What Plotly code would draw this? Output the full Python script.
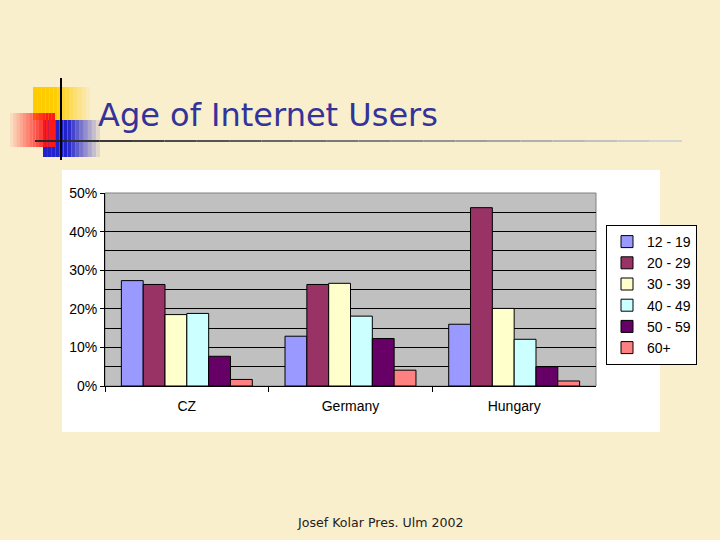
import plotly.graph_objects as go

# Data ---
countries = ["CZ", "Germany", "Hungary"]
age_groups = ["12 - 19", "20 - 29", "30 - 39", "40 - 49", "50 - 59", "60+"]
share_cz = [27.3, 26.3, 18.5, 18.8, 7.7, 1.7]
share_germany = [12.9, 26.3, 26.6, 18.1, 12.3, 4.1]
share_hungary = [16.0, 46.2, 20.1, 12.1, 5.0, 1.3]
y_ticks = [0, 10, 20, 30, 40, 50]
y_tick_labels = ["0%", "10%", "20%", "30%", "40%", "50%"]

colors = ["#9999FF", "#993366", "#FFFFCC", "#CCFFFF", "#660066", "#FF8080"]
FONT = "Arial, Liberation Sans, sans-serif"

fig = go.Figure()
for i, (group, color) in enumerate(zip(age_groups, colors)):
    fig.add_trace(go.Bar(
        x=countries,
        y=[share_cz[i], share_germany[i], share_hungary[i]],
        name=group,
        marker=dict(color=color, line=dict(color="black", width=1)),
    ))

# slide decoration (pixel positions -> paper fractions)
W, H = 720, 540
def px_rect(x0, y0, x1, y1, color, opacity=1.0, line=None):
    return dict(type="rect", xref="paper", yref="paper", layer="below",
                x0=x0 / W, x1=x1 / W, y0=1 - y1 / H, y1=1 - y0 / H,
                fillcolor=color, opacity=opacity,
                line=line or dict(width=0))

def gradient(x0, y0, x1, y1, color, steps=14, fade="right", solid=0.35):
    # first part solid, then fading out
    out = []
    for k in range(steps):
        t = k / steps
        op = 1.0 if t < solid else 1 - (t - solid) / (1 - solid)
        if fade == "right":
            a = x0 + (x1 - x0) * k / steps
            b = x0 + (x1 - x0) * (k + 1) / steps
        else:
            a = x1 - (x1 - x0) * (k + 1) / steps
            b = x1 - (x1 - x0) * k / steps
        out.append(px_rect(a, y0, b, y1, color, max(op, 0.03)))
    return out

shapes = []
shapes += gradient(33, 87, 90, 120, "#FFCC00", fade="right")
shapes += gradient(43, 120, 100, 157, "#2222CC", fade="right", solid=0.4)
shapes += gradient(10, 113, 55, 147, "#FF1A1A", fade="left", solid=0.15)
for k in range(20):
    x0 = 35 + (682 - 35) * k / 20
    x1 = 35 + (682 - 35) * (k + 1) / 20
    g = int(40 + 180 * k / 20)
    shapes.append(dict(type="line", xref="paper", yref="paper",
                       x0=x0 / W, x1=x1 / W, y0=1 - 141 / H, y1=1 - 141 / H,
                       line=dict(color=f"rgb({g},{g},{g})", width=2)))
shapes.append(dict(type="line", xref="paper", yref="paper",
                   x0=61 / W, x1=61 / W, y0=1 - 160 / H, y1=1 - 78 / H,
                   line=dict(color="black", width=2)))
# white chart area and grey plot area
shapes.append(px_rect(62, 170, 660, 432, "white"))
shapes.append(dict(type="rect", xref="x domain", yref="y domain", layer="below",
                   x0=0, x1=1, y0=0, y1=1, fillcolor="#C0C0C0",
                   line=dict(color="#808080", width=1)))

fig.update_xaxes(
    domain=[105 / W, 596 / W],
    showline=True, linecolor="black", linewidth=1,
    ticks="outside", tickson="boundaries", ticklen=5, tickcolor="black",
    ticklabelstandoff=7,
    tickfont=dict(family=FONT, size=14, color="black"),
    showgrid=False,
)
fig.update_yaxes(
    domain=[1 - 386 / H, 1 - 193 / H],
    range=[0, 50], tickvals=y_ticks, ticktext=y_tick_labels,
    showline=True, linecolor="black", linewidth=1,
    ticks="outside", ticklen=4, tickcolor="black",
    tickfont=dict(family=FONT, size=14, color="black"),
    showgrid=True, gridcolor="black", gridwidth=1,
    minor=dict(dtick=5, showgrid=True, gridcolor="black", gridwidth=1),
    zeroline=False,
)
fig.update_layout(
    width=W, height=H,
    margin=dict(l=0, r=0, t=0, b=0, pad=0, autoexpand=False),
    paper_bgcolor="#FAEFCD",
    plot_bgcolor="#C0C0C0",
    barmode="group", bargap=0.2, bargroupgap=0,
    shapes=shapes,
    showlegend=True,
    legend=dict(
        x=606 / W, y=1 - 225 / H, xanchor="left", yanchor="top",
        bgcolor="white", bordercolor="black", borderwidth=1,
        font=dict(family=FONT, size=14, color="black"),
        itemwidth=30,
    ),
    annotations=[
        dict(text="Age of Internet Users", xref="paper", yref="paper",
             x=96 / W, y=1 - 115 / H, xanchor="left", yanchor="middle",
             showarrow=False,
             font=dict(family="DejaVu Sans, sans-serif", size=32, color="#333399")),
        dict(text="Josef Kolar Pres. Ulm 2002", xref="paper", yref="paper",
             x=380 / W, y=1 - 522 / H, xanchor="center", yanchor="middle",
             showarrow=False,
             font=dict(family="DejaVu Sans, sans-serif", size=12.6, color="#222222")),
    ],
)

fig.write_html("out.html", config={"displayModeBar": False},
               post_script="document.body.style.margin='0';")
